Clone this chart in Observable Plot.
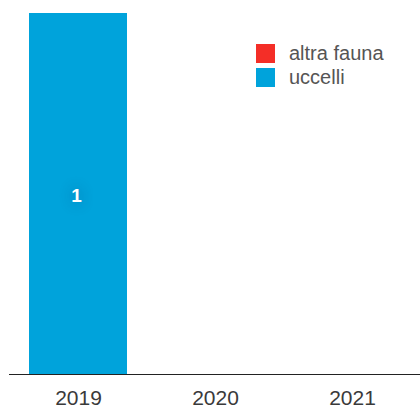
<!DOCTYPE html>
<html><head><meta charset="utf-8">
<script src="https://cdn.jsdelivr.net/npm/d3@7"></script>
<script src="https://cdn.jsdelivr.net/npm/@observablehq/plot@0.6"></script>
<style>
body{margin:0;background:#fff;font-family:"Liberation Sans",Arial,sans-serif;}
#wrap{position:relative;width:420px;height:408px;}
.legend{position:absolute;left:256px;top:41px;font-size:20px;color:#555;}
.legend div{display:flex;align-items:center;height:24px;}
.legend span.sw{display:inline-block;width:19px;height:19px;margin-right:14px;}
.lbl text{text-shadow:0 0 14px rgba(0,40,90,0.45);}
</style></head>
<body><div id="wrap"></div>
<script>
const years = ["2019", "2020", "2021"];
const series = ["altra fauna", "uccelli"];
const altraFauna = [0, 0, 0];
const uccelli = [1, 0, 0];
const colors = ["#f42e27", "#00a3db"];

const data = [];
years.forEach((y, i) => {
  data.push({year: y, series: "uccelli", value: uccelli[i]});
  data.push({year: y, series: "altra fauna", value: altraFauna[i]});
});

const chart = Plot.plot({
  width: 420, height: 408,
  marginLeft: 9, marginRight: 0, marginTop: 13, marginBottom: 34,
  style: {fontFamily: "Liberation Sans, Arial, sans-serif", background: "#fff"},
  x: {domain: years, range: [9, 422], paddingInner: 0.283, paddingOuter: 0.145, label: null, tickSize: 0, tickPadding: 16},
  y: {domain: [0, 1], axis: null},
  color: {domain: series, range: colors},
  marks: [
    Plot.barY(data, {x: "year", y: "value", fill: "series", order: ["uccelli", "altra fauna"]}),
    Plot.textY(data.filter(d => d.value > 0), Plot.stackY({x: "year", y: "value", z: "series", order: ["uccelli", "altra fauna"], text: d => String(d.value), fill: "white", fontWeight: "bold", fontSize: 19, dx: -2, dy: 2, className: "lbl"})),
    Plot.ruleY([0], {stroke: "#222", strokeWidth: 1.2}),
    Plot.axisX({tickSize: 0, tickPadding: 16, fontSize: 21, fill: "#3a3a3a", label: null})
  ]
});
const wrap = document.getElementById("wrap");
wrap.appendChild(chart);
const leg = document.createElement("div");
leg.className = "legend";
series.forEach((s, i) => {
  const row = document.createElement("div");
  row.innerHTML = `<span class="sw" style="background:${colors[i]}"></span>${s}`;
  leg.appendChild(row);
});
wrap.appendChild(leg);
</script></body></html>
